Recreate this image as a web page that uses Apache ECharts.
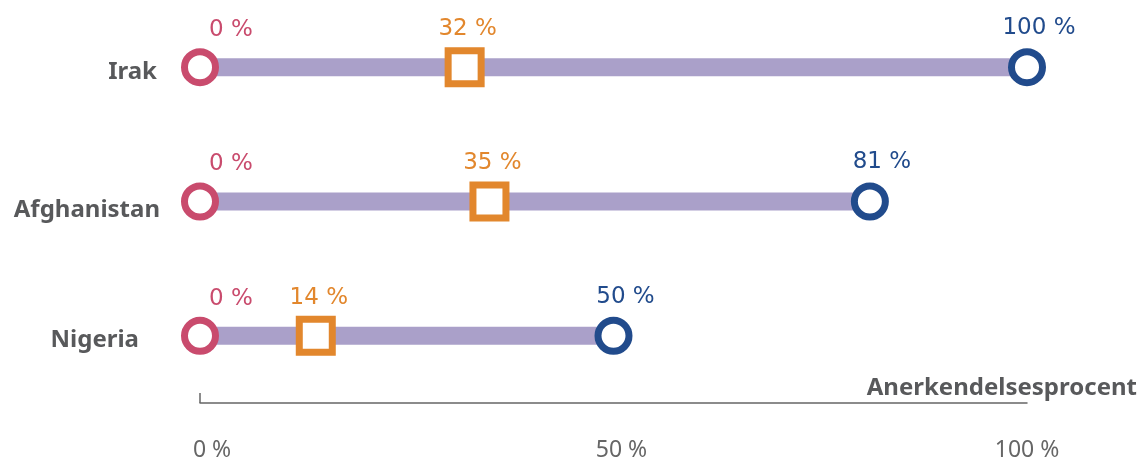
<!DOCTYPE html>
<html><head><meta charset="utf-8">
<script src="https://cdn.jsdelivr.net/npm/echarts@6/dist/echarts.min.js"></script>
<style>html,body{margin:0;padding:0;background:#fff}#c{width:1142px;height:465px}</style>
</head><body><div id="c"></div>
<script>
const categories = ['Irak', 'Afghanistan', 'Nigeria'];
const minValues = [0, 0, 0];
const midValues = [32, 35, 14];
const maxValues = [100, 81, 50];
const xTicks = [0, 50, 100];
const axisName = 'Anerkendelsesprocent';

const FONT = '"Noto Sans", "Open Sans", sans-serif';
const LFONT = '"DejaVu Sans", "Noto Sans", sans-serif';
const PINK = '#c94b6d', ORANGE = '#e2872d', BLUE = '#214b8c', BAR = '#aaa0c9', GREY = '#58595b';

const chart = echarts.init(document.getElementById('c'), null, {renderer: 'canvas'});
const pct = p => p.value[0] + ' %';
const tickStyle = pad => ({fontSize: 23, color: '#666', fontFamily: FONT, padding: [0, 0, 0, pad]});

chart.setOption({
  animation: false,
  textStyle: {fontFamily: FONT},
  grid: {left: 200, right: 115, top: -2, bottom: 62, containLabel: false},
  xAxis: {
    type: 'value', min: 0, max: 100, interval: 50,
    splitLine: {show: false},
    axisLine: {show: true, lineStyle: {color: '#666', width: 1.5}},
    axisTick: {show: true, inside: true, length: 10, customValues: [0], lineStyle: {color: '#666', width: 1.5}},
    axisLabel: {margin: 36, fontSize: 23, color: '#666', fontFamily: FONT,
      formatter: v => xTicks.includes(v) ? '{t' + v + '|' + v + ' %}' : '',
      rich: {t0: tickStyle(24), t50: tickStyle(16), t100: tickStyle(0)}},
    name: axisName, nameLocation: 'end', nameGap: 110,
    nameTextStyle: {align: 'right', verticalAlign: 'bottom', fontSize: 24, fontWeight: 'bold', color: GREY, fontFamily: FONT, padding: [0, 0, 3, 0]}
  },
  yAxis: {
    type: 'category', data: categories, inverse: true,
    axisLine: {show: false}, axisTick: {show: false}, splitLine: {show: false},
    axisLabel: {
      margin: 40,
      formatter: (v, i) => '{c' + i + '|' + v + '}',
      rich: {
        c0: {fontSize: 24, fontWeight: 'bold', color: GREY, fontFamily: FONT, padding: [10, 3, 0, 0]},
        c1: {fontSize: 24, fontWeight: 'bold', color: GREY, fontFamily: FONT, padding: [18, 0, 0, 0]},
        c2: {fontSize: 24, fontWeight: 'bold', color: GREY, fontFamily: FONT, padding: [8, 21, 0, 0]}
      }
    }
  },
  series: [
    {type: 'bar', stack: 'r', barWidth: 18, silent: true, itemStyle: {color: 'transparent'}, data: minValues},
    {type: 'bar', stack: 'r', barWidth: 18, silent: true, itemStyle: {color: BAR}, data: maxValues.map((m, i) => m - minValues[i])},
    {type: 'scatter', symbol: 'circle', symbolSize: 31, z: 5,
      itemStyle: {color: '#fff', borderColor: BLUE, borderWidth: 7, opacity: 1},
      label: {show: true, position: 'inside', offset: [12, -39], formatter: pct, fontSize: 23, color: BLUE, fontFamily: LFONT},
      data: maxValues.map((v, i) => [v, categories[i]])},
    {type: 'scatter', symbol: 'rect', symbolSize: 33, z: 5,
      itemStyle: {color: '#fff', borderColor: ORANGE, borderWidth: 7, opacity: 1},
      label: {show: true, position: 'inside', offset: [3, -38], formatter: pct, fontSize: 23, color: ORANGE, fontFamily: LFONT},
      data: midValues.map((v, i) => [v, categories[i]])},
    {type: 'scatter', symbol: 'circle', symbolSize: 31, z: 6,
      itemStyle: {color: '#fff', borderColor: PINK, borderWidth: 7, opacity: 1},
      label: {show: true, position: 'inside', offset: [31, -37], formatter: pct, fontSize: 23, color: PINK, fontFamily: LFONT},
      data: minValues.map((v, i) => [v, categories[i]])}
  ]
});
</script></body></html>
